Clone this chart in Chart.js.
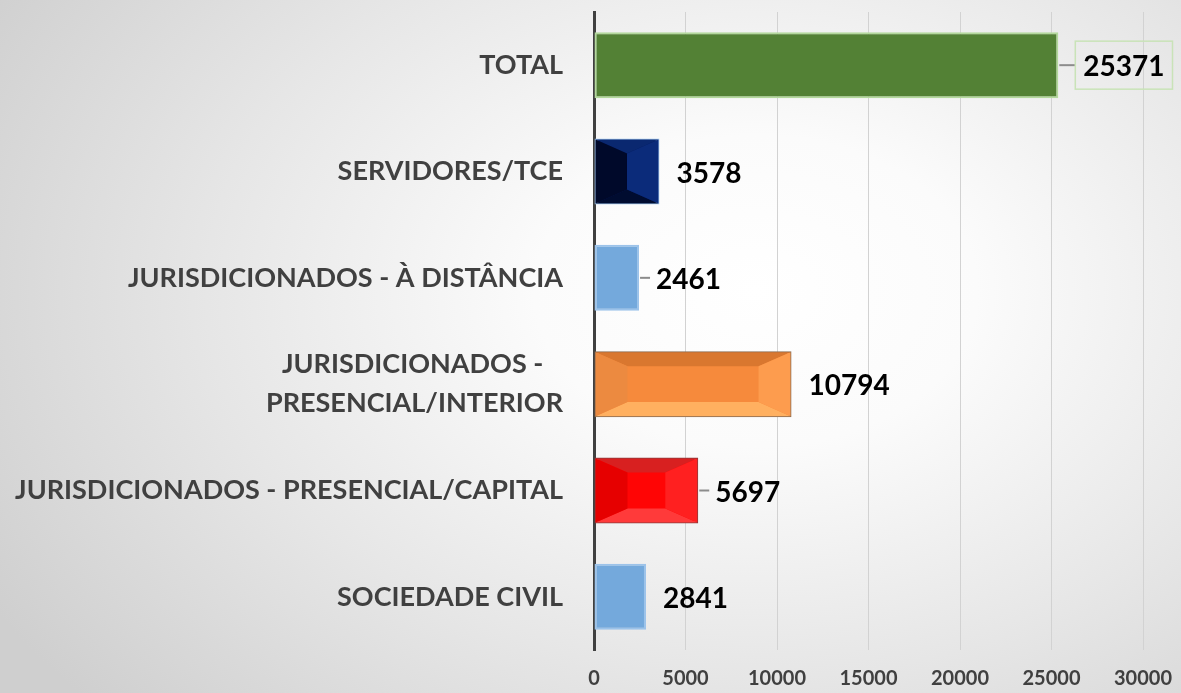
<!DOCTYPE html>
<html>
<head>
<meta charset="utf-8">
<script src="https://cdn.jsdelivr.net/npm/chart.js@4.4.0/dist/chart.umd.min.js"></script>
<style>
  html, body { margin: 0; padding: 0; width: 1181px; height: 693px; overflow: hidden; }
  body { background: radial-gradient(ellipse 75% 90% at 64% 42%, #ffffff 0%, #fbfbfb 25%, #e6e6e6 62%, #cfcfcf 100%); }
  #wrap { position: relative; width: 1181px; height: 693px; }
</style>
</head>
<body>
<div id="wrap"><canvas id="chart"></canvas></div>
<script>
// chart data
const categories = [
    'TOTAL',
    'SERVIDORES/TCE',
    'JURISDICIONADOS - À DISTÂNCIA',
    ['JURISDICIONADOS -   ', 'PRESENCIAL/INTERIOR'],
    'JURISDICIONADOS - PRESENCIAL/CAPITAL',
    'SOCIEDADE CIVIL'
];
const values = [25371, 3578, 2461, 10794, 5697, 2841];
const xTicks = [0, 5000, 10000, 15000, 20000, 25000, 30000];

const barColors = ['#538135', '#03195a', '#74a9dc', '#f68a3c', '#ff0505', '#74a9dc'];
const barBorders = ['#b3d89c', '#9dc3ea', '#9cc3ea', '#8a6a50', '#8c3a3a', '#9cc3ea'];
// bevel shades per bar: [top, bottom, left, right] or null
const bevels = [
    null,
    ['#0a2870', '#000c30', '#00092a', '#0b2b7a'],
    null,
    ['#d9772f', '#ffb060', '#ec8a40', '#fd9c4e'],
    ['#d82020', '#ff3a3a', '#e60000', '#ff2020'],
    null
];
const leaders = [true, false, true, false, true, false];

const FONT = "Lato, 'Open Sans', sans-serif";

const bevelPlugin = {
    id: 'bevel',
    afterDatasetsDraw(chart) {
        const ctx = chart.ctx;
        const meta = chart.getDatasetMeta(0);
        meta.data.forEach((el, i) => {
            const b = bevels[i];
            if (!b) return;
            const x0 = el.base + 1, x1 = el.x - 1;
            const y0 = el.y - el.height / 2 + 1, y1 = el.y + el.height / 2 - 1;
            const h = y1 - y0;
            const dx = Math.min((x1 - x0) / 2, h * 0.5);
            const dy = Math.min(h / 2, h * 0.22);
            const ix0 = x0 + dx, ix1 = x1 - dx, iy0 = y0 + dy, iy1 = y1 - dy;
            const poly = (pts, c) => {
                ctx.beginPath();
                ctx.moveTo(pts[0][0], pts[0][1]);
                pts.slice(1).forEach(p => ctx.lineTo(p[0], p[1]));
                ctx.closePath();
                ctx.fillStyle = c;
                ctx.fill();
            };
            ctx.save();
            poly([[x0, y0], [x1, y0], [ix1, iy0], [ix0, iy0]], b[0]);
            poly([[x0, y1], [x1, y1], [ix1, iy1], [ix0, iy1]], b[1]);
            poly([[x0, y0], [ix0, iy0], [ix0, iy1], [x0, y1]], b[2]);
            poly([[x1, y0], [ix1, iy0], [ix1, iy1], [x1, y1]], b[3]);
            ctx.restore();
        });
    }
};

const valueLabels = {
    id: 'valueLabels',
    afterDatasetsDraw(chart) {
        const ctx = chart.ctx;
        const meta = chart.getDatasetMeta(0);
        ctx.save();
        ctx.font = "bold 28px " + FONT;
        ctx.textBaseline = 'middle';
        ctx.textAlign = 'left';
        meta.data.forEach((el, i) => {
            const txt = String(values[i]);
            let tx = el.x + 17;
            if (leaders[i]) {
                ctx.strokeStyle = '#8c8c8c';
                ctx.lineWidth = 2;
                ctx.beginPath();
                ctx.moveTo(el.x + 1, el.y);
                ctx.lineTo(el.x + (i === 0 ? 17 : 11), el.y);
                ctx.stroke();
            }
            if (i === 0) {
                const w = ctx.measureText(txt).width;
                tx = el.x + 25;
                ctx.strokeStyle = '#c9e3b8';
                ctx.lineWidth = 1.5;
                ctx.strokeRect(el.x + 17, el.y - 24, w + 16, 48);
            }
            ctx.fillStyle = '#000000';
            ctx.fillText(txt, tx, el.y + 2);
        });
        ctx.restore();
    }
};

new Chart(document.getElementById('chart'), {
    type: 'bar',
    data: {
        labels: categories,
        datasets: [{
            data: values,
            backgroundColor: barColors,
            borderColor: barBorders,
            borderWidth: 2,
            borderSkipped: false,
            barPercentage: 0.62,
            categoryPercentage: 1
        }]
    },
    options: {
        indexAxis: 'y',
        responsive: true,
        maintainAspectRatio: false,
        animation: false,
        layout: { padding: { top: 12, right: 38, left: 0, bottom: 0 } },
        plugins: {
            legend: { display: false },
            tooltip: { enabled: false }
        },
        scales: {
            x: {
                min: 0,
                max: 30000,
                afterBuildTicks: (scale) => { scale.ticks = xTicks.map(v => ({ value: v })); },
                afterFit: (scale) => {
                    scale.height = 43;
                    scale.paddingLeft = 0;
                    scale.paddingRight = 0;
                },
                ticks: {
                    callback: (v) => String(v),
                    color: '#404040',
                    padding: 17,
                    maxRotation: 0,
                    font: { family: FONT, size: 20, weight: 'bold' }
                },
                grid: { color: '#d2d2d2', lineWidth: 1, drawTicks: false },
                border: { display: false }
            },
            y: {
                afterFit: (scale) => {
                    scale.width = 594;
                    scale.paddingTop = 0;
                    scale.paddingBottom = 0;
                },
                ticks: {
                    color: '#404040',
                    padding: 31,
                    font: { family: FONT, size: 27, weight: 'bold', lineHeight: 1.45 }
                },
                grid: { display: false, drawTicks: false },
                border: { display: true, color: '#404040', width: 3 }
            }
        }
    },
    plugins: [bevelPlugin, valueLabels]
});
</script>
</body>
</html>
